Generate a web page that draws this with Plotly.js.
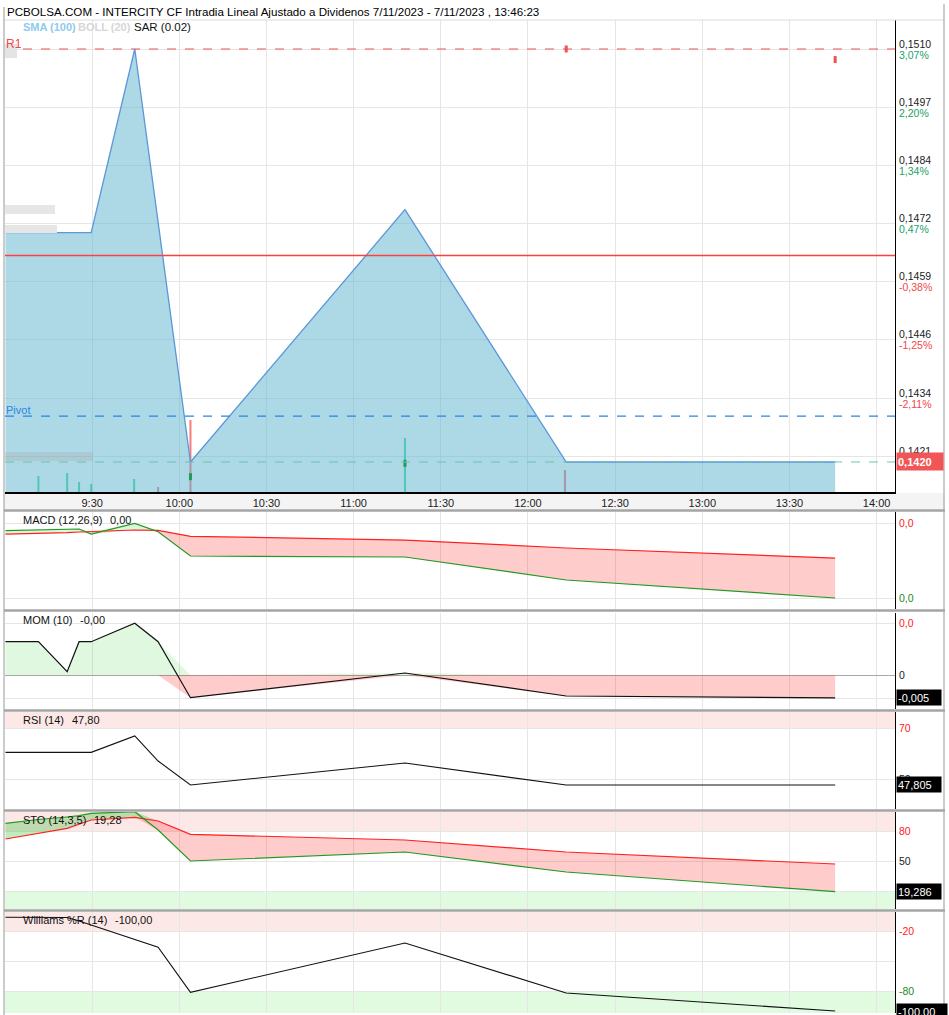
<!DOCTYPE html>
<html>
<head>
<meta charset="utf-8">
<script src="https://cdn.plot.ly/plotly-3.0.1.min.js"></script>
<style>html,body{margin:0;padding:0;background:#fff;}#chart{width:949px;height:1015px;}</style>
</head>
<body>
<div id="chart"></div>
<script>
// ---------------- DATA ----------------
const DAY = '2023-11-07 ';
const tickTimes = ['09:30','10:00','10:30','11:00','11:30','12:00','12:30','13:00','13:30','14:00'];
const tickLabels = ['9:30','10:00','10:30','11:00','11:30','12:00','12:30','13:00','13:30','14:00'];

const priceTime = ['09:00:10','09:29:40','09:44:40','10:03:50','11:17:40','12:13:10','13:45:44'];
const price = [0.1470, 0.1470, 0.1510, 0.1420, 0.1475, 0.1420, 0.1420];

const volTime = ['09:11:30','09:21:24','09:25:30','09:29:40','09:44:27','09:52:42','10:03:50','11:17:40','12:12:44'];
const volume = [16000, 19000, 10000, 8000, 13000, 5000, 72000, 54000, 22000];
const volDir = [1, 1, 1, 1, 1, -1, -1, 1, -1];

const sarTime = ['10:03:50','11:17:40','12:13:10','13:45:44'];
const sar = [0.14168, 0.14197, 0.1510, 0.15077];
const sarDir = [1, 1, -1, -1];

const levelR1 = 0.1510, levelPrev = 0.1465, levelPivot = 0.1430, levelLast = 0.1420;

const priceTicks = [0.15100, 0.14973, 0.14846, 0.14720, 0.14593, 0.14466, 0.14339, 0.14212];
const priceTickText = ['0,1510','0,1497','0,1484','0,1472','0,1459','0,1446','0,1434','0,1421'];
const pctTickText = ['3,07%','2,20%','1,34%','0,47%','-0,38%','-1,25%','-2,11%','-2,98%'];

const indTime = ['09:00:10','09:11:30','09:21:24','09:25:30','09:29:40','09:44:40','09:52:42','10:03:50','11:17:40','12:13:10','13:45:44'];
const macd   = [-0.0000987,-0.0000867,-0.0000787,-0.000076,-0.000143,0.0,-0.000112,-0.000436,-0.000449,-0.000756,-0.000996];
const signal = [-0.000143,-0.000136,-0.000124,-0.000116,-0.000112,-0.0000893,-0.0000933,-0.000173,-0.000223,-0.000329,-0.000463];
const mom    = [0.0073,0.0073,0.00078,0.0073,0.0073,0.0113,0.0073,-0.00487,0.0005,-0.0045,-0.00493];
const rsi    = [60.6,60.6,60.6,60.6,60.6,67.0,57.2,47.8,56.4,47.8,47.805];
const stoK   = [87.7,91.5,94,95.3,97.7,99.3,81,50,59,39,19.286];
const stoD   = [72,77.7,82.7,86.7,91,93.7,90,76.7,71,59,47];
const willr  = [-6.3,-6.3,-6.5,-10,-14,-28.3,-36.3,-81.3,-32,-82,-100];

// ---------------- HELPERS ----------------
const L = 5, R = 895, TOP = 20, BOT = 1013;
const px = x => (x - L) / (R - L);
const py = y => (BOT - y) / (BOT - TOP);
const t = a => a.map(s => DAY + s);
const FONT = 'Liberation Sans, Arial, sans-serif';

const tI = t(indTime);
const X_RANGE = [DAY + '09:00:00', DAY + '14:06:20'];

const R_PRICE = [0.141346, 0.151632];
const R_VOL = [0, 472000];
const R_MACD = [-0.001143, 0.000151];
const R_MOM = [-0.00733, 0.01354];
const R_RSI = [38.4, 76.4];
const R_STO = [2, 99];
const R_WR = [-102, -1];

// ---------------- TRACES ----------------
const traces = [];
traces.push({
  type: 'bar', x: t(volTime), y: volume, xaxis: 'x', yaxis: 'y',
  width: 42000,
  marker: { color: volDir.map(d => d > 0 ? '#45dca0' : '#f87c7c'), line: { width: 0 } }
});
traces.push({
  type: 'scatter', mode: 'lines', x: t(priceTime), y: price, xaxis: 'x', yaxis: 'y2',
  fill: 'tozeroy', fillcolor: 'rgba(91,177,205,0.5)',
  line: { color: '#5b97d8', width: 1.3 }
});
traces.push({
  type: 'scatter', mode: 'lines', x: X_RANGE, y: [levelPrev, levelPrev], xaxis: 'x', yaxis: 'y2',
  line: { color: '#ff4040', width: 1.6 }
});
traces.push({
  type: 'scatter', mode: 'markers', x: t(sarTime), y: sar, xaxis: 'x', yaxis: 'y2',
  marker: { symbol: 'line-ns', size: 5, line: { width: 3, color: sarDir.map(d => d > 0 ? '#1f9a5a' : '#f05050') } }
});

const macdHi = macd.map((v, i) => Math.max(v, signal[i]));
const macdLo = macd.map((v, i) => Math.min(v, signal[i]));
traces.push({ type: 'scatter', mode: 'lines', x: tI, y: signal, xaxis: 'x2', yaxis: 'y3', line: { width: 0 } });
traces.push({ type: 'scatter', mode: 'lines', x: tI, y: macdHi, xaxis: 'x2', yaxis: 'y3', line: { width: 0 }, fill: 'tonexty', fillcolor: 'rgba(0,200,0,0.14)' });
traces.push({ type: 'scatter', mode: 'lines', x: tI, y: signal, xaxis: 'x2', yaxis: 'y3', line: { width: 0 } });
traces.push({ type: 'scatter', mode: 'lines', x: tI, y: macdLo, xaxis: 'x2', yaxis: 'y3', line: { width: 0 }, fill: 'tonexty', fillcolor: 'rgba(255,0,0,0.2)' });
traces.push({ type: 'scatter', mode: 'lines', x: tI, y: signal, xaxis: 'x2', yaxis: 'y3', line: { color: '#ff2020', width: 1.2 } });
traces.push({ type: 'scatter', mode: 'lines', x: tI, y: macd, xaxis: 'x2', yaxis: 'y3', line: { color: '#229a22', width: 1.2 } });

traces.push({ type: 'scatter', mode: 'lines', x: tI, y: mom.map(v => Math.max(v, 0)), xaxis: 'x3', yaxis: 'y4', line: { width: 0 }, fill: 'tozeroy', fillcolor: 'rgba(0,200,0,0.12)' });
traces.push({ type: 'scatter', mode: 'lines', x: tI, y: mom.map(v => Math.min(v, 0)), xaxis: 'x3', yaxis: 'y4', line: { width: 0 }, fill: 'tozeroy', fillcolor: 'rgba(255,0,0,0.2)' });
traces.push({ type: 'scatter', mode: 'lines', x: tI, y: mom, xaxis: 'x3', yaxis: 'y4', line: { color: '#111', width: 1.2 } });

traces.push({ type: 'scatter', mode: 'lines', x: tI, y: rsi, xaxis: 'x4', yaxis: 'y5', line: { color: '#111', width: 1.1 } });

const stoHi = stoK.map((v, i) => Math.max(v, stoD[i]));
const stoLo = stoK.map((v, i) => Math.min(v, stoD[i]));
traces.push({ type: 'scatter', mode: 'lines', x: tI, y: stoD, xaxis: 'x5', yaxis: 'y6', line: { width: 0 } });
traces.push({ type: 'scatter', mode: 'lines', x: tI, y: stoHi, xaxis: 'x5', yaxis: 'y6', line: { width: 0 }, fill: 'tonexty', fillcolor: 'rgba(0,180,0,0.25)' });
traces.push({ type: 'scatter', mode: 'lines', x: tI, y: stoD, xaxis: 'x5', yaxis: 'y6', line: { width: 0 } });
traces.push({ type: 'scatter', mode: 'lines', x: tI, y: stoLo, xaxis: 'x5', yaxis: 'y6', line: { width: 0 }, fill: 'tonexty', fillcolor: 'rgba(255,0,0,0.2)' });
traces.push({ type: 'scatter', mode: 'lines', x: tI, y: stoD, xaxis: 'x5', yaxis: 'y6', line: { color: '#ff2020', width: 1.2 } });
traces.push({ type: 'scatter', mode: 'lines', x: tI, y: stoK, xaxis: 'x5', yaxis: 'y6', line: { color: '#229a22', width: 1.2 } });

traces.push({ type: 'scatter', mode: 'lines', x: tI, y: willr, xaxis: 'x6', yaxis: 'y7', line: { color: '#111', width: 1.1 } });

// ---------------- AXES ----------------
const GRID = '#e6e6e6';
const xBase = {
  type: 'date', range: X_RANGE, tickvals: t(tickTimes), ticktext: tickLabels,
  showgrid: true, gridcolor: GRID, gridwidth: 1, zeroline: false, ticks: '',
  fixedrange: true
};
const layout = {
  width: 949, height: 1015,
  margin: { l: L, r: 949 - R, t: TOP, b: 1015 - BOT, pad: 0 },
  paper_bgcolor: '#fff', plot_bgcolor: 'rgba(0,0,0,0)',
  showlegend: false, hovermode: false,
  font: { family: FONT, size: 11, color: '#222' },
  xaxis: Object.assign({}, xBase, { anchor: 'y', domain: [0, 1], showticklabels: true,
    tickfont: { family: FONT, size: 11, color: '#222' }, showline: true, linecolor: '#000', linewidth: 2 }),
  yaxis: { domain: [py(492), 1], range: R_VOL, visible: false, fixedrange: true },
  yaxis2: { overlaying: 'y', side: 'right', range: R_PRICE, tickvals: priceTicks, showticklabels: false,
    showgrid: true, gridcolor: GRID, zeroline: false, ticks: '', showline: true, linecolor: '#000', linewidth: 1.3, fixedrange: true },
  shapes: [], annotations: []
};
const panels = [
  { n: 2, dom: [py(609), py(512)], range: R_MACD, ticks: [0, -0.001] },
  { n: 3, dom: [py(709), py(613)], range: R_MOM, ticks: [0.0113, 0, -0.005] },
  { n: 4, dom: [py(809), py(712)], range: R_RSI, ticks: [70, 50] },
  { n: 5, dom: [py(909), py(812)], range: R_STO, ticks: [80, 50, 20] },
  { n: 6, dom: [0, py(912)], range: R_WR, ticks: [-20, -50, -80] }
];
panels.forEach(p => {
  layout['xaxis' + p.n] = Object.assign({}, xBase, { anchor: 'y' + (p.n + 1), matches: 'x', showticklabels: false, showline: false });
  layout['yaxis' + (p.n + 1)] = { domain: p.dom, anchor: 'x' + p.n, side: 'right', range: p.range, tickvals: p.ticks,
    showticklabels: false, showgrid: true, gridcolor: GRID, zeroline: p.n === 3, zerolinecolor: '#a8a8a8', zerolinewidth: 1,
    ticks: '', showline: true, linecolor: '#000', linewidth: 1.3, fixedrange: true };
});

// ---------------- SHAPES ----------------
const S = layout.shapes;
S.push({ type: 'rect', xref: 'paper', yref: 'paper', x0: px(4), x1: px(945), y0: py(509), y1: py(493), fillcolor: '#f4f4f4', line: { width: 0 }, layer: 'below' });
S.push({ type: 'rect', xref: 'x4', yref: 'y5', x0: X_RANGE[0], x1: X_RANGE[1], y0: 70, y1: R_RSI[1], fillcolor: '#fde8e8', line: { width: 0 }, layer: 'below' });
S.push({ type: 'rect', xref: 'x5', yref: 'y6', x0: X_RANGE[0], x1: X_RANGE[1], y0: 80, y1: R_STO[1], fillcolor: '#fde8e8', line: { width: 0 }, layer: 'below' });
S.push({ type: 'rect', xref: 'x5', yref: 'y6', x0: X_RANGE[0], x1: X_RANGE[1], y0: R_STO[0], y1: 20, fillcolor: '#e0fbe0', line: { width: 0 }, layer: 'below' });
S.push({ type: 'rect', xref: 'x6', yref: 'y7', x0: X_RANGE[0], x1: X_RANGE[1], y0: -20, y1: R_WR[1], fillcolor: '#fde8e8', line: { width: 0 }, layer: 'below' });
S.push({ type: 'rect', xref: 'x6', yref: 'y7', x0: X_RANGE[0], x1: X_RANGE[1], y0: R_WR[0], y1: -80, fillcolor: '#e0fbe0', line: { width: 0 }, layer: 'below' });
S.push({ type: 'line', xref: 'paper', yref: 'y2', x0: 0, x1: 1, y0: levelR1, y1: levelR1, line: { color: '#f05050', width: 1, dash: 'dash' } });
S.push({ type: 'line', xref: 'paper', yref: 'y2', x0: 0, x1: 1, y0: levelPivot, y1: levelPivot, line: { color: '#2a84e6', width: 1.2, dash: 'dash' } });
S.push({ type: 'line', xref: 'paper', yref: 'y2', x0: 0, x1: 1, y0: levelLast, y1: levelLast, line: { color: '#6cc4ae', width: 1, dash: 'dash' } });
[[5, 17, 44, 58, '#e4e4e4'], [5, 55, 205, 214, '#e6e6e6'], [5, 57, 225, 233, '#e6e6e6'], [5, 93, 452, 461, 'rgba(170,170,170,0.3)']].forEach(b => {
  S.push({ type: 'rect', xref: 'paper', yref: 'paper', x0: px(b[0]), x1: px(b[1]), y0: py(b[3]), y1: py(b[2]), fillcolor: b[4], line: { width: 0 } });
});
[510.5, 610.5, 710.5, 810.5, 910.5].forEach(y => {
  S.push({ type: 'line', xref: 'paper', yref: 'paper', x0: px(4), x1: px(945), y0: py(y), y1: py(y), line: { color: '#a4a4a4', width: 2.5 } });
});
S.push({ type: 'line', xref: 'paper', yref: 'paper', x0: px(4), x1: px(944), y0: py(20), y1: py(20), line: { color: '#dcdcdc', width: 1 } });
S.push({ type: 'line', xref: 'paper', yref: 'paper', x0: px(4), x1: px(4), y0: py(1015), y1: py(7), line: { color: '#a8a8a8', width: 1.2 } });
S.push({ type: 'line', xref: 'paper', yref: 'paper', x0: px(944), x1: px(944), y0: py(1015), y1: py(4), line: { color: '#a8a8a8', width: 1.2 } });

// ---------------- ANNOTATIONS ----------------
const A = layout.annotations;
function txt(x, y, text, opts) {
  A.push(Object.assign({ xref: 'paper', yref: 'paper', x: px(x), y: py(y), text: text, showarrow: false,
    xanchor: 'left', yanchor: 'middle', font: { family: FONT, size: 11, color: '#222' } }, opts || {}));
}
txt(5, 12, 'PCBOLSA.COM - INTERCITY CF Intradia Lineal Ajustado a Dividenos 7/11/2023 - 7/11/2023 , 13:46:23', { font: { family: FONT, size: 11.6, color: '#000' } });
txt(21, 27, '<b>SMA (100)</b>', { font: { family: FONT, size: 11, color: '#8fcaf0' } });
txt(76, 27, '<b>BOLL (20)</b>', { font: { family: FONT, size: 11, color: '#d6d6d6' } });
txt(132, 27, 'SAR (0.02)', { font: { family: FONT, size: 11.5, color: '#111' } });
txt(4, 44, 'R1', { font: { family: FONT, size: 12, color: '#f04848' } });
txt(4, 410, 'Pivot', { font: { family: FONT, size: 11, color: '#2a84e6' } });

[['MACD (12,26,9)', '0,00', 520, 108], ['MOM (10)', '-0,00', 620, 78], ['RSI (14)', '47,80', 720, 70],
 ['STO (14,3,5)', '19,28', 820, 92], ['Williams %R (14)', '-100,00', 920, 113]].forEach(p => {
  txt(21, p[2], p[0], { font: { family: FONT, size: 11, color: '#111' } });
  txt(p[3], p[2], p[1], { font: { family: FONT, size: 11, color: '#111' } });
});

const RFONT = 10.5;
priceTicks.forEach((v, i) => {
  A.push({ xref: 'paper', yref: 'y2', x: px(897), y: v, yshift: 5.5, text: priceTickText[i], showarrow: false, xanchor: 'left', yanchor: 'middle', font: { family: FONT, size: RFONT, color: '#222' } });
  A.push({ xref: 'paper', yref: 'y2', x: px(897), y: v, yshift: -5.5, text: pctTickText[i], showarrow: false, xanchor: 'left', yanchor: 'middle', font: { family: FONT, size: RFONT, color: pctTickText[i].charAt(0) === '-' ? '#f04848' : '#22a06b' } });
});
function axLab(yref, v, text, color) {
  A.push({ xref: 'paper', yref: yref, x: px(897), y: v, text: text, showarrow: false, xanchor: 'left', yanchor: 'middle', font: { family: FONT, size: RFONT, color: color } });
}
function box(yref, v, text, bg, w, h) {
  A.push({ xref: 'paper', yref: yref, x: px(896), y: v, text: text, showarrow: false, xanchor: 'left', yanchor: 'middle',
    bgcolor: bg, borderpad: 1, width: w || 42, height: h || 13, align: 'left', font: { family: FONT, size: 11, color: '#fff' } });
}
box('y2', price[price.length - 1], '<b>0,1420</b>', '#f25555', 44, 15);
axLab('y3', 0, '0,0', '#ff1a1a');
axLab('y3', -0.001, '0,0', '#1a8a1a');
axLab('y4', 0.0113, '0,0', '#ff1a1a');
axLab('y4', 0, '0', '#222');
box('y4', mom[mom.length - 1], '-0,005', '#000');
axLab('y5', 70, '70', '#ff1a1a');
axLab('y5', 50, '50', '#222');
box('y5', rsi[rsi.length - 1], '47,805', '#000');
axLab('y6', 80, '80', '#ff1a1a');
axLab('y6', 50, '50', '#222');
box('y6', stoK[stoK.length - 1], '19,286', '#000');
axLab('y7', -20, '-20', '#ff1a1a');
axLab('y7', -80, '-80', '#1a8a1a');
box('y7', willr[willr.length - 1], '-100,00', '#000', 48);

Plotly.newPlot('chart', traces, layout, { staticPlot: true, displayModeBar: false });
</script>
</body>
</html>
